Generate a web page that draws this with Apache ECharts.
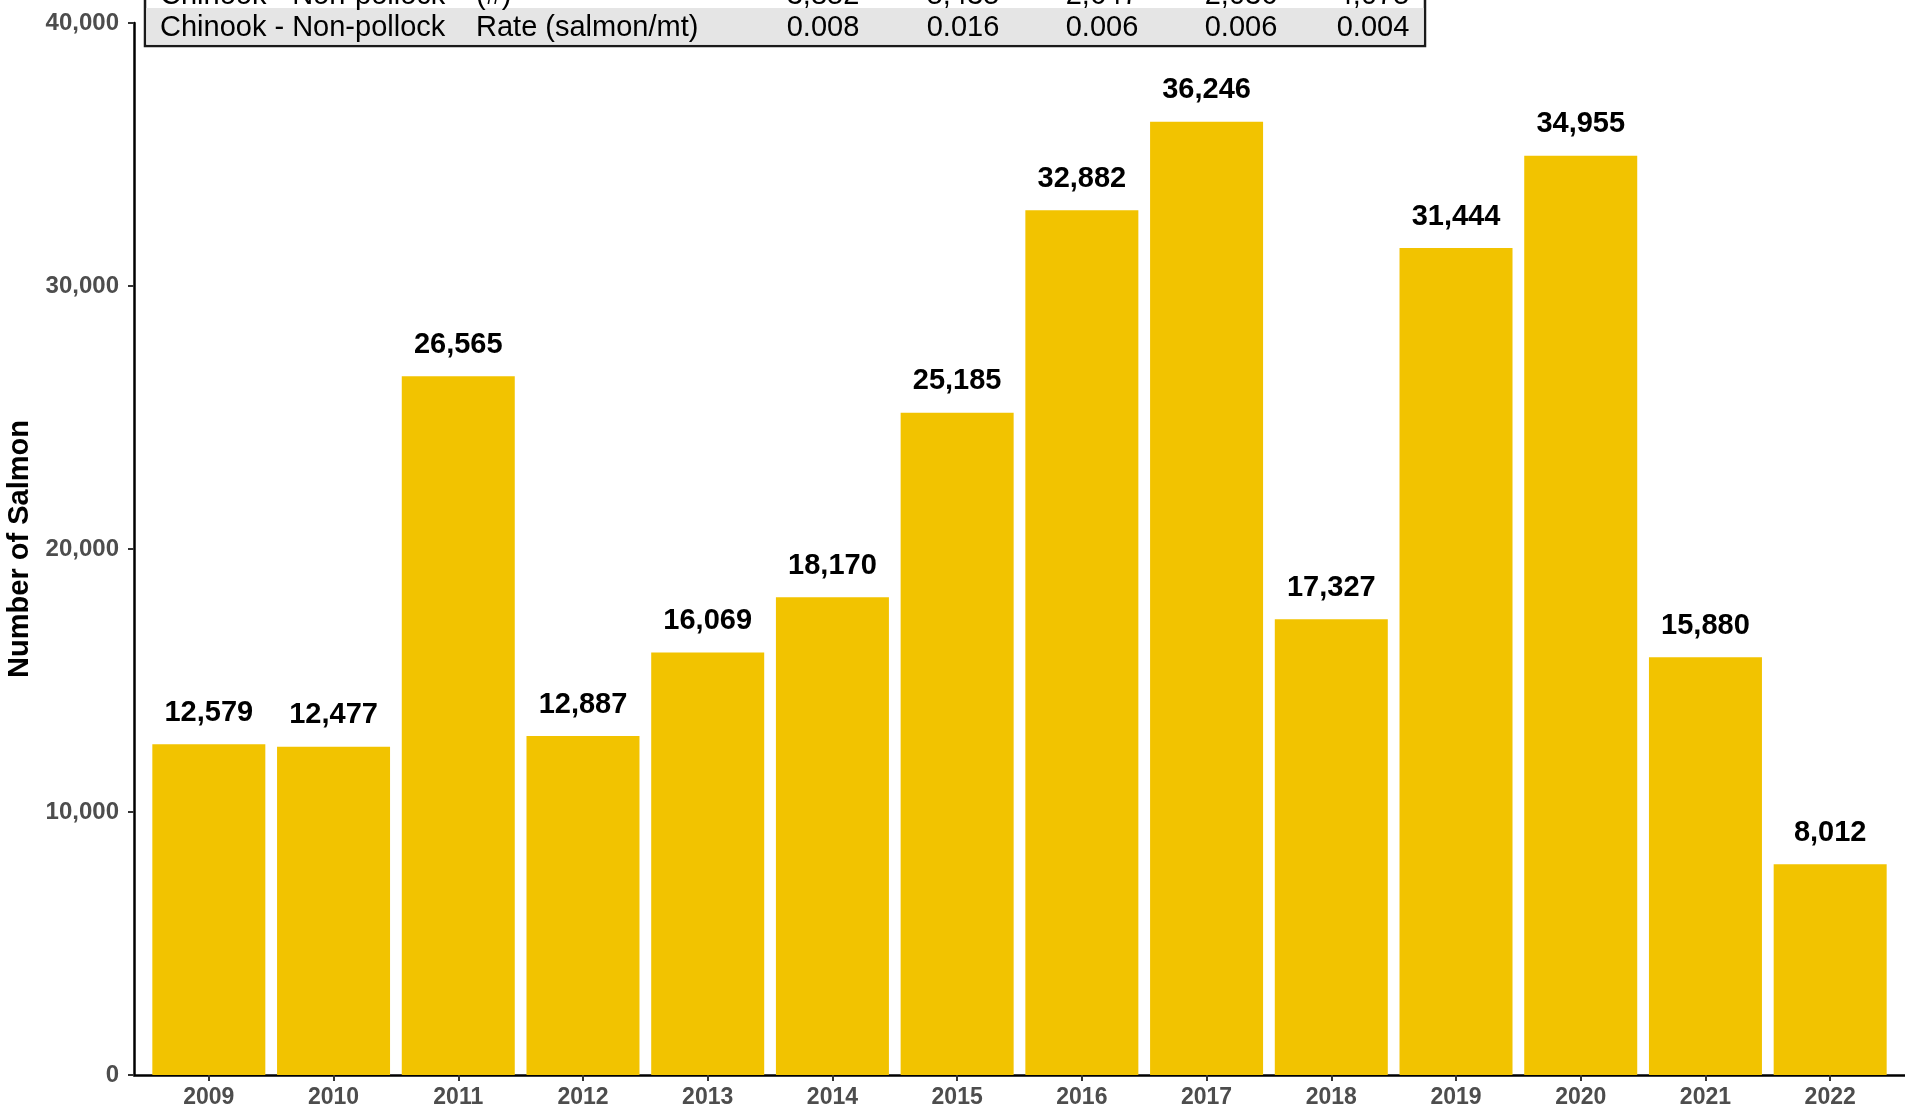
<!DOCTYPE html>
<html>
<head>
<meta charset="utf-8">
<script src="https://cdn.jsdelivr.net/npm/echarts@6/dist/echarts.min.js"></script>
<style>
html,body{margin:0;padding:0;background:#fff;}
#chart{width:1905px;height:1108px;}
</style>
</head>
<body>
<div id="chart"></div>
<script>
// ---- Data ----
const years = [2009, 2010, 2011, 2012, 2013, 2014, 2015, 2016, 2017, 2018, 2019, 2020, 2021, 2022];
const salmonCounts = [12579, 12477, 26565, 12887, 16069, 18170, 25185, 32882, 36246, 17327, 31444, 34955, 15880, 8012];
const yTicks = [0, 10000, 20000, 30000, 40000];
const tableRowLabels = ["Chinook - Non-pollock", "Chinook - Non-pollock"];
const tableRowUnits = ["(#)", "Rate (salmon/mt)"];
const tableCountRow = ["3,852", "5,435", "2,647", "2,036", "4,075"];
const tableRateRow = ["0.008", "0.016", "0.006", "0.006", "0.004"];
const yAxisTitle = "Number of Salmon";

// ---- Layout ----
const FONT = "'Liberation Sans', Arial, Helvetica, sans-serif";
const chart = echarts.init(document.getElementById('chart'), null, {renderer: 'canvas'});

const tableLeft = 145, tableRight = 1425, rowSplit = 8, tableBottom = 46;
const colX = [823, 963, 1102, 1241, 1373];
const rowCentres = [-4, 28];
const graphics = [
  {type: 'rect', z: 100, shape: {x: tableLeft, y: -40, width: tableRight - tableLeft, height: tableBottom + 40},
   style: {fill: '#ffffff', stroke: '#1a1a1a', lineWidth: 2.5}},
  {type: 'rect', z: 101, shape: {x: tableLeft + 1.25, y: rowSplit, width: tableRight - tableLeft - 2.5, height: tableBottom - rowSplit - 1.25},
   style: {fill: '#E5E5E5'}}
];
const rows = [tableCountRow, tableRateRow];
rows.forEach((row, r) => {
  const base = {font: '29px ' + FONT, fill: '#000', verticalAlign: 'middle', textVerticalAlign: 'middle'};
  graphics.push({type: 'text', z: 102, x: 160, y: rowCentres[r],
    style: Object.assign({text: tableRowLabels[r], align: 'left', textAlign: 'left'}, base)});
  graphics.push({type: 'text', z: 102, x: 476, y: rowCentres[r],
    style: Object.assign({text: tableRowUnits[r], align: 'left', textAlign: 'left'}, base)});
  row.forEach((v, i) => {
    graphics.push({type: 'text', z: 102, x: colX[i], y: rowCentres[r],
      style: Object.assign({text: v, align: 'center', textAlign: 'center'}, base)});
  });
});

const option = {
  backgroundColor: '#ffffff',
  animation: false,
  textStyle: {fontFamily: FONT},
  grid: {left: 134, right: 0, top: 23, bottom: 33, containLabel: false, outerBoundsMode: 'none'},
  xAxis: {
    type: 'value',
    min: years[0] - 0.6,
    max: years[years.length - 1] + 0.6,
    splitLine: {show: false},
    axisLine: {show: true, onZero: false, lineStyle: {color: '#000', width: 2.5}},
    axisTick: {show: true, length: 6, lineStyle: {color: '#333', width: 2}, customValues: years},
    axisLabel: {show: true, customValues: years, formatter: v => String(v), color: '#4D4D4D',
      fontSize: 23, fontWeight: 'bold', fontFamily: FONT, margin: 11}
  },
  yAxis: {
    type: 'value',
    min: 0, max: 40000, interval: 10000,
    name: yAxisTitle,
    nameLocation: 'middle',
    nameRotate: 90,
    nameGap: 93,
    nameTextStyle: {color: '#000', fontSize: 29, fontWeight: 'bold', fontFamily: FONT},
    splitLine: {show: false},
    axisLine: {show: true, onZero: false, lineStyle: {color: '#000', width: 2.5}},
    axisTick: {show: true, length: 6, lineStyle: {color: '#333', width: 2}},
    axisLabel: {color: '#4D4D4D', fontSize: 24, fontWeight: 'bold', fontFamily: FONT, margin: 15,
      formatter: v => v.toLocaleString('en-US')}
  },
  series: [{
    type: 'bar',
    data: years.map((y, i) => [y, salmonCounts[i]]),
    barWidth: 113,
    itemStyle: {color: '#F2C300'},
    label: {show: true, position: 'top', distance: 17, color: '#000', fontSize: 29, fontWeight: 'bold', fontFamily: FONT,
      formatter: p => p.value[1].toLocaleString('en-US')}
  }],
  graphic: graphics
};
chart.setOption(option);
</script>
</body>
</html>
